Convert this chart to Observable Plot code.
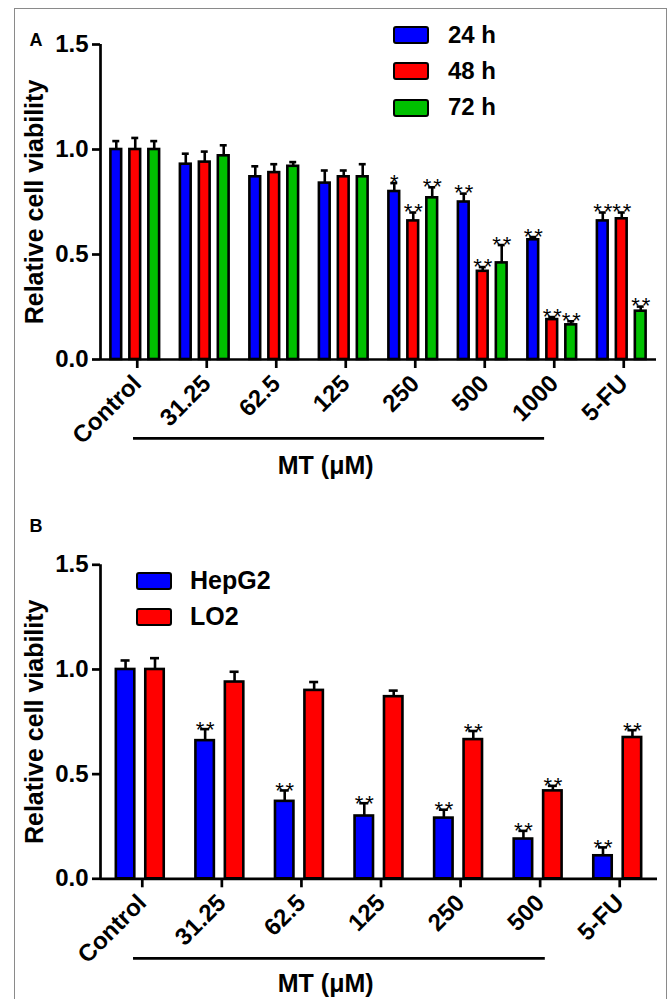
<!DOCTYPE html>
<html>
<head>
<meta charset="utf-8">
<script src="https://cdn.jsdelivr.net/npm/d3@7"></script>
<script src="https://cdn.jsdelivr.net/npm/@observablehq/plot@0.6"></script>
<style>
  html, body { margin: 0; padding: 0; background: #fff; }
  #fig { position: relative; width: 669px; height: 999px; overflow: hidden;
         font-family: "Liberation Sans", Arial, sans-serif; color: #000; }
  #border { position: absolute; left: 14px; top: 8px; width: 653px; height: 1020px;
            border: 1px solid #8a8a8a; box-sizing: border-box; }
  .panel { position: absolute; left: 0; }
  .sw { position: absolute; width: 36px; height: 18px; border: 2.6px solid #000;
        border-radius: 3px; box-sizing: border-box; }
  .lt { position: absolute; font-weight: bold; white-space: nowrap; line-height: 1.117em; }
  g[aria-description="stars"] text { letter-spacing: 1.8px; }
</style>
</head>
<body>
<div id="fig">
  <div id="border"></div>
  <div id="panelA" class="panel" style="top:0px"></div>
  <div id="panelB" class="panel" style="top:500px"></div>
</div>
<script>
// ---------------- Panel A data ----------------
const catsA = ["Control", "31.25", "62.5", "125", "250", "500", "1000", "5-FU"];
const seriesNamesA = ["24 h", "48 h", "72 h"];
const h24    = [1.00, 0.93, 0.87, 0.84, 0.80, 0.75, 0.57, 0.66];
const h24err = [0.04, 0.05, 0.05, 0.06, 0.04, 0.04, 0.013, 0.04];
const h48    = [1.00, 0.94, 0.89, 0.87, 0.66, 0.42, 0.19, 0.67];
const h48err = [0.055, 0.05, 0.04, 0.03, 0.04, 0.02, 0.012, 0.03];
const h72    = [1.00, 0.97, 0.92, 0.87, 0.77, 0.46, 0.165, 0.23];
const h72err = [0.04, 0.05, 0.02, 0.06, 0.05, 0.085, 0.017, 0.022];
const s24 = ["", "", "", "", "*", "**", "**", "**"];
const s48 = ["", "", "", "", "**", "**", "**", "**"];
const s72 = ["", "", "", "", "**", "**", "**", "**"];

// ---------------- Panel B data ----------------
const catsB = ["Control", "31.25", "62.5", "125", "250", "500", "5-FU"];
const seriesNamesB = ["HepG2", "LO2"];
const hep    = [1.00, 0.66, 0.37, 0.30, 0.29, 0.19, 0.11];
const hepErr = [0.043, 0.055, 0.052, 0.061, 0.04, 0.039, 0.04];
const lo2    = [1.00, 0.94, 0.90, 0.87, 0.665, 0.42, 0.675];
const lo2Err = [0.054, 0.049, 0.04, 0.029, 0.041, 0.024, 0.035];
const sHep = ["", "**", "**", "**", "**", "**", "**"];
const sLo2 = ["", "", "", "", "**", "**", "**"];

const yTicks = [0, 0.5, 1.0, 1.5];
const yLabel = "Relative cell viability";
const xTitle = "MT (\u03bcM)";

const colorsA = ["#0000ff", "#ff0000", "#00c000"];
const colorsB = ["#0000ff", "#ff0000"];

const SW = 2.6;
const FONT = "Liberation Sans, Arial, sans-serif";

function rowsFor(cats, vals, errs, stars, k, n, step) {
  return cats.map((c, i) => ({
    xc: i + (k - (n - 1) / 2) * step,
    v: vals[i], e: errs[i], star: stars[i]
  }));
}

function panel({cats, series, step, barW, capW, starDy, height, mTop, mBottom, mRight,
                underline, titlePos, letter, letterDy}) {
  const n = series.length;
  const marks = [];
  series.forEach((s, k) => {
    const rows = rowsFor(cats, s.v, s.e, s.s, k, n, step);
    marks.push(
      Plot.rectY(rows, {x1: d => d.xc - barW / 2, x2: d => d.xc + barW / 2, y: "v",
                        fill: s.color, stroke: "#000", strokeWidth: SW}),
      Plot.ruleX(rows, {x: "xc", y1: "v", y2: d => d.v + d.e, stroke: "#000", strokeWidth: SW}),
      Plot.ruleY(rows, {y: d => d.v + d.e, x1: d => d.xc - capW / 2, x2: d => d.xc + capW / 2,
                        stroke: "#000", strokeWidth: SW}),
      Plot.text(rows.filter(d => d.star), {x: "xc", y: d => d.v + d.e, text: "star",
                        ariaDescription: "stars",
                        lineAnchor: "bottom", dy: starDy, dx: 0.9, fontSize: 22, fill: "#000"})
    );
  });
  const last = cats.length - 0.5;
  marks.push(
    Plot.ruleX([-0.5], {y1: 0, y2: 1.5, stroke: "#000", strokeWidth: 2.7}),
    Plot.ruleY([0], {x1: -0.5, x2: last, stroke: "#000", strokeWidth: 2.7}),
    Plot.axisY({ticks: yTicks, tickFormat: d3.format(".1f"), tickSize: 8, tickPadding: 4,
                fontSize: 24, fontWeight: "bold", strokeWidth: 2.7, label: null}),
    Plot.axisX({ticks: d3.range(cats.length), tickFormat: i => cats[i], tickRotate: -45,
                tickSize: 9, tickPadding: 11, dx: 2, fontSize: 24, fontWeight: "bold",
                strokeWidth: 2.7, label: null}),
    Plot.text([yLabel], {frameAnchor: "left", rotate: -90, dx: -66, textAnchor: "middle",
                lineAnchor: "middle", fontSize: 25, fontWeight: "bold", fill: "#000"}),
    Plot.ruleY([underline.y], {x1: underline.x1, x2: underline.x2, stroke: "#000", strokeWidth: 2.7}),
    Plot.text([xTitle], {x: titlePos.x, y: titlePos.y, lineAnchor: "bottom", textAnchor: "middle",
                fontSize: 25, fontWeight: "bold", fill: "#000"}),
    Plot.text([letter], {frameAnchor: "top-left", dx: -71, dy: letterDy, textAnchor: "start",
                lineAnchor: "bottom", fontSize: 18, fontWeight: "bold", fill: "#000"})
  );
  return Plot.plot({
    width: 669, height,
    marginLeft: 100, marginRight: mRight, marginTop: mTop, marginBottom: mBottom,
    x: {type: "linear", domain: [-0.5, last]},
    y: {domain: [0, 1.5]},
    style: {fontFamily: FONT, color: "#000", background: "transparent", overflow: "visible"},
    marks
  });
}

const plotA = panel({
  cats: catsA,
  series: [
    {v: h24, e: h24err, s: s24, color: colorsA[0]},
    {v: h48, e: h48err, s: s48, color: colorsA[1]},
    {v: h72, e: h72err, s: s72, color: colorsA[2]}
  ],
  step: 0.273, barW: 0.155, capW: 0.1, starDy: 6.5,
  height: 500, mTop: 44, mBottom: 141, mRight: 13,
  underline: {y: -0.376, x1: -0.025, x2: 5.89},
  titlePos: {x: 2.74, y: -0.543},
  letter: "A", letterDy: 1
});
document.getElementById("panelA").appendChild(plotA);

const plotB = panel({
  cats: catsB,
  series: [
    {v: hep, e: hepErr, s: sHep, color: colorsB[0]},
    {v: lo2, e: lo2Err, s: sLo2, color: colorsB[1]}
  ],
  step: 0.37, barW: 0.232, capW: 0.113, starDy: 7.5,
  height: 499, mTop: 64.3, mBottom: 120.7, mRight: 12,
  underline: {y: -0.38, x1: -0.085, x2: 5.09},
  titlePos: {x: 2.33, y: -0.543},
  letter: "B", letterDy: -33.3
});
document.getElementById("panelB").appendChild(plotB);

// ---------------- Legends (HTML) ----------------
function legend(names, colors, {boxLeft, boxTops, textLeft, baselines, fontSize}) {
  const fig = document.getElementById("fig");
  names.forEach((name, i) => {
    const sw = document.createElement("div");
    sw.className = "sw";
    sw.style.left = boxLeft + "px";
    sw.style.top = boxTops[i] + "px";
    sw.style.background = colors[i];
    fig.appendChild(sw);
    const t = document.createElement("div");
    t.className = "lt";
    t.textContent = name;
    t.style.fontSize = fontSize + "px";
    t.style.left = textLeft + "px";
    t.style.top = (baselines[i] - 0.905 * fontSize) + "px";
    fig.appendChild(t);
  });
}
legend(seriesNamesA, colorsA, {boxLeft: 393, boxTops: [26, 62, 98.5], textLeft: 448,
  baselines: [43.3, 80, 115.7], fontSize: 24});
legend(seriesNamesB, colorsB, {boxLeft: 136, boxTops: [572, 608], textLeft: 190,
  baselines: [589.3, 625.7], fontSize: 25});
</script>
</body>
</html>
